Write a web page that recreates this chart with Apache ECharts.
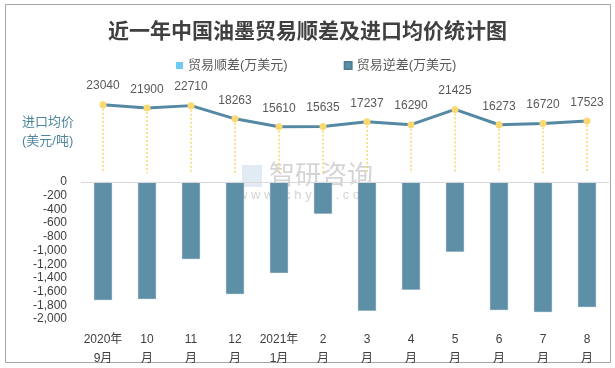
<!DOCTYPE html>
<html><head><meta charset="utf-8">
<script src="https://cdn.jsdelivr.net/npm/echarts@6/dist/echarts.min.js"></script>
<style>html,body{margin:0;padding:0;background:#fff}#c{width:615px;height:368px}</style>
</head><body><div id="c"></div>
<script>
const categories = ['2020年\n9月','10\n月','11\n月','12\n月','2021年\n1月','2\n月','3\n月','4\n月','5\n月','6\n月','7\n月','8\n月'];
const surplus = [null,null,null,null,null,null,null,null,null,null,null,null];
const deficit = [-1723,-1708,-1124,-1635,-1328,-463,-1879,-1572,-1017,-1869,-1898,-1825];
const importPrice = [23040,21900,22710,18263,15610,15635,17237,16290,21425,16273,16720,17523];
const barTicks = [0,-200,-400,-600,-800,-1000,-1200,-1400,-1600,-1800,-2000];

const chart = echarts.init(document.getElementById('c'), null, {renderer:'canvas'});
const font = '"Liberation Sans","Noto Sans CJK SC",sans-serif';
const dropLines = importPrice.map((v,i)=>[{coord:[i,v]},{coord:[i,0]}]);
chart.setOption({
  animation:false,
  textStyle:{fontFamily:font},
  title:{text:'近一年中国油墨贸易顺差及进口均价统计图',left:'center',top:15,
    textStyle:{fontFamily:'"Noto Sans CJK SC",sans-serif',fontSize:21,fontWeight:'bold',color:'#404040'}},
  legend:{top:59,left:176,padding:0,itemGap:56,itemWidth:7,itemHeight:7,icon:'rect',
    textStyle:{fontSize:13,color:'#595959',fontFamily:font},
    data:['贸易顺差(万美元)','贸易逆差(万美元)']},
  graphic:[
    {type:'rect',shape:{x:5.5,y:4.5,width:605,height:358},style:{fill:'none',stroke:'#A6A6A6',lineWidth:1},z:-1},
    {type:'text',left:22,top:113,style:{text:'进口均价\n(美元/吨)',fontSize:13,lineHeight:19,fill:'#4F86A0',fontFamily:font}},
    {type:'text',left:269,top:161,style:{text:'智研咨询',fontSize:26,fill:'rgba(170,170,170,0.5)',fontFamily:'"Noto Sans CJK SC",sans-serif'}},
    {type:'text',left:238,top:189,style:{text:'w w w . c h y x x . c o m',fontSize:13,fill:'rgba(170,170,170,0.5)',fontFamily:font}},
    {type:'rect',shape:{x:242,y:165,width:20,height:22},style:{fill:'rgba(160,185,215,0.3)'}}
  ],
  grid:[
    {left:81,right:6,top:182,bottom:49,containLabel:false},
    {left:81,right:6,top:84,bottom:195,containLabel:false}
  ],
  xAxis:[
    {type:'category',gridIndex:0,data:categories,position:'bottom',
      axisLine:{show:false},axisTick:{show:false},
      axisLabel:{interval:0,fontSize:12,color:'#404040',lineHeight:19,margin:11,fontFamily:font}},
    {type:'category',gridIndex:1,data:categories,show:false}
  ],
  yAxis:[
    {type:'value',gridIndex:0,min:-2000,max:0,interval:200,
      splitLine:{show:false},axisLine:{show:false},axisTick:{show:false},
      axisLabel:{fontSize:12,color:'#404040',margin:14,fontFamily:font,
        formatter:v=>v.toLocaleString('en-US')}},
    {type:'value',gridIndex:1,min:0,max:30000,show:false,splitLine:{show:false}}
  ],
  series:[
    {name:'贸易顺差(万美元)',type:'bar',xAxisIndex:0,yAxisIndex:0,data:surplus,itemStyle:{color:'#6CCBF2'}},
    {name:'贸易逆差(万美元)',type:'bar',xAxisIndex:0,yAxisIndex:0,data:deficit,barWidth:18,barGap:'-100%',
      itemStyle:{color:'#5D8FA6',borderColor:'#4F7F96',borderWidth:0.5,borderType:'dotted'},
      markLine:{silent:true,symbol:'none',label:{show:false},lineStyle:{color:'#D9D9D9',width:1,type:'solid'},data:[{yAxis:0}]}},
    {name:'进口均价',type:'line',xAxisIndex:1,yAxisIndex:1,data:importPrice,
      lineStyle:{color:'#5589A3',width:3},symbol:'circle',symbolSize:7,
      itemStyle:{color:'#FAD872'},
      label:{show:true,position:'top',distance:9,fontSize:12,color:'#595959',fontFamily:font},
      markLine:{silent:true,symbol:'none',label:{show:false},
        lineStyle:{color:'#F7D46E',width:1.5,type:[2,2]},data:dropLines}}
  ]
});
</script></body></html>
